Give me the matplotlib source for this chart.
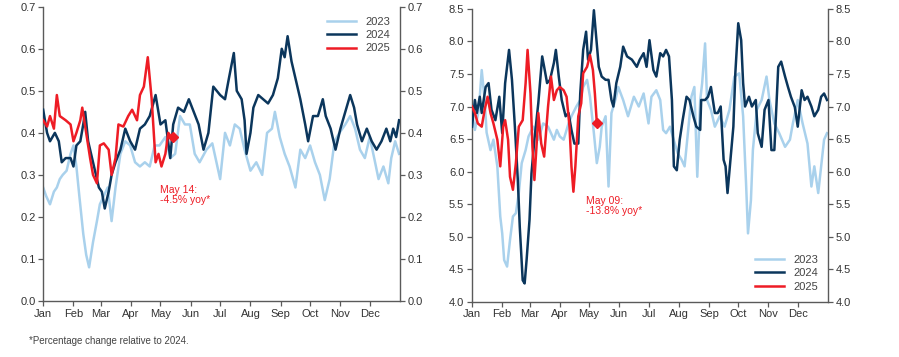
"""
Two panels, daily series by day of year (2023 / 2024 / 2025), twin y labels.
"""
import numpy as np
import matplotlib
matplotlib.use("Agg")
import matplotlib.pyplot as plt

plt.rcParams["font.family"] = ["Liberation Sans", "DejaVu Sans"]

MONTHS = ["Jan", "Feb", "Mar", "Apr", "May", "Jun", "Jul", "Aug", "Sep", "Oct", "Nov", "Dec"]
MONTH_START = [0, 31, 59, 90, 120, 151, 181, 212, 243, 273, 304, 334]

C23 = "#a9d1ec"
C24 = "#0b365c"
C25 = "#ee1c25"
GREY = "#5a5a5a"

# ---- left panel
left_days_2023 = [0, 3, 7, 11, 14, 17, 20, 24, 28, 31, 34, 37, 41, 44, 47, 51, 55, 58, 62, 66,
                  70, 74, 79, 84, 89, 94, 99, 104, 109, 114, 119, 125, 130, 135, 140, 145, 150, 155, 160, 167,
                  173, 181, 186, 191, 196, 201, 206, 212, 218, 224, 229, 234, 237, 242, 247, 252, 258, 263, 268, 273,
                  278, 283, 288, 293, 298, 303, 309, 314, 319, 324, 329, 334, 339, 343, 348, 353, 356, 360, 364]
left_vals_2023 = [0.27, 0.25, 0.23, 0.26, 0.27, 0.29, 0.30, 0.31, 0.35, 0.37, 0.32, 0.25, 0.16, 0.11, 0.08, 0.14, 0.19, 0.23, 0.25, 0.27,
                  0.19, 0.27, 0.35, 0.38, 0.37, 0.33, 0.32, 0.33, 0.32, 0.37, 0.37, 0.39, 0.34, 0.35, 0.44, 0.42, 0.42, 0.35, 0.33, 0.36,
                  0.375, 0.29, 0.40, 0.37, 0.42, 0.41, 0.36, 0.31, 0.33, 0.30, 0.40, 0.41, 0.45, 0.39, 0.35, 0.32, 0.27, 0.36, 0.34, 0.37,
                  0.33, 0.30, 0.24, 0.29, 0.38, 0.40, 0.42, 0.44, 0.41, 0.36, 0.34, 0.39, 0.335, 0.29, 0.32, 0.28, 0.34, 0.38, 0.35]

left_days_2024 = [0, 4, 7, 12, 16, 19, 23, 28, 31, 34, 38, 41, 43, 46, 50, 53, 57, 60, 63, 67,
                  70, 74, 79, 84, 89, 94, 99, 104, 109, 115, 120, 125, 130, 133, 138, 144, 149, 154, 159, 164,
                  169, 174, 181, 186, 190, 195, 198, 203, 206, 208, 212, 215, 220, 225, 230, 235, 240, 244, 247, 250,
                  254, 258, 263, 268, 271, 276, 281, 286, 289, 294, 299, 304, 309, 314, 318, 321, 326, 331, 336, 341,
                  346, 351, 355, 358, 361, 364]
left_vals_2024 = [0.455, 0.40, 0.38, 0.40, 0.38, 0.33, 0.34, 0.34, 0.32, 0.37, 0.38, 0.42, 0.45, 0.38, 0.34, 0.31, 0.27, 0.26, 0.22, 0.26,
                  0.30, 0.33, 0.36, 0.41, 0.38, 0.36, 0.41, 0.42, 0.44, 0.49, 0.42, 0.43, 0.34, 0.42, 0.46, 0.45, 0.48, 0.45, 0.42, 0.36,
                  0.40, 0.51, 0.49, 0.48, 0.53, 0.59, 0.50, 0.48, 0.43, 0.35, 0.40, 0.46, 0.49, 0.48, 0.47, 0.49, 0.53, 0.60, 0.58, 0.63,
                  0.57, 0.53, 0.48, 0.42, 0.38, 0.44, 0.44, 0.48, 0.44, 0.41, 0.36, 0.41, 0.45, 0.49, 0.46, 0.42, 0.38, 0.41, 0.38, 0.36,
                  0.38, 0.41, 0.38, 0.41, 0.39, 0.43]

left_days_2025 = [0, 4, 7, 11, 14, 17, 23, 28, 31, 34, 38, 40, 44, 48, 51, 55, 58, 62, 67, 70,
                  74, 77, 82, 87, 91, 96, 99, 103, 107, 111, 115, 118, 121, 125, 128, 131, 133]
left_vals_2025 = [0.43, 0.415, 0.44, 0.41, 0.49, 0.44, 0.43, 0.42, 0.38, 0.40, 0.43, 0.46, 0.40, 0.34, 0.30, 0.28, 0.37, 0.375, 0.36, 0.30,
                  0.34, 0.42, 0.415, 0.44, 0.455, 0.43, 0.49, 0.51, 0.58, 0.48, 0.33, 0.35, 0.32, 0.35, 0.40, 0.39, 0.39]

# ---- right panel
right_days_2023 = [0, 3, 7, 10, 13, 15, 19, 22, 26, 29, 31, 33, 36, 39, 42, 45, 48, 51, 55, 58,
                   63, 68, 73, 78, 84, 87, 90, 94, 99, 102, 107, 111, 114, 118, 121, 125, 128, 131, 133, 137,
                   140, 143, 147, 150, 155, 160, 166, 171, 176, 181, 184, 189, 193, 196, 199, 203, 208, 211, 215, 218,
                   222, 225, 228, 231, 234, 236, 239, 241, 245, 249, 254, 259, 264, 269, 274, 278, 281, 283, 286, 288,
                   292, 297, 302, 305, 310, 315, 321, 326, 329, 334, 339, 344, 348, 351, 355, 358, 361, 364]
right_vals_2023 = [6.90, 6.64, 6.95, 7.56, 7.10, 6.60, 6.33, 6.49, 6.08, 5.31, 5.05, 4.64, 4.54, 4.95, 5.31, 5.36, 5.67, 6.13, 6.33, 6.54,
                   6.69, 6.49, 6.74, 6.69, 6.49, 6.64, 6.54, 6.49, 6.74, 6.85, 7.00, 7.10, 7.30, 7.41, 7.15, 6.59, 6.13, 6.38, 6.69, 6.85,
                   5.77, 6.90, 7.10, 7.30, 7.10, 6.85, 7.15, 7.00, 7.20, 6.74, 7.15, 7.25, 7.10, 6.64, 6.59, 6.69, 6.43, 6.28, 6.18, 6.08,
                   6.69, 7.15, 7.30, 5.92, 7.10, 7.36, 7.97, 7.10, 6.95, 6.69, 6.85, 6.69, 6.95, 7.46, 7.51, 6.85, 5.82, 5.05, 5.56, 6.33,
                   6.95, 7.10, 7.46, 7.10, 6.74, 6.59, 6.38, 6.49, 6.74, 7.10, 6.74, 6.43, 5.77, 6.08, 5.67, 6.08, 6.49, 6.59]

right_days_2024 = [0, 3, 5, 8, 10, 14, 17, 20, 24, 28, 31, 34, 38, 41, 44, 47, 49, 52, 54, 56,
                   59, 61, 64, 68, 72, 74, 77, 80, 84, 86, 89, 92, 96, 99, 102, 105, 109, 111, 114, 117,
                   119, 122, 125, 127, 130, 133, 137, 140, 143, 145, 148, 152, 155, 159, 164, 169, 172, 176, 179, 182,
                   186, 189, 193, 196, 199, 202, 205, 207, 210, 213, 216, 220, 223, 227, 230, 234, 235, 239, 242, 245,
                   249, 252, 255, 258, 260, 262, 265, 268, 270, 273, 276, 278, 280, 284, 287, 291, 293, 297, 300, 304,
                   307, 310, 314, 317, 321, 324, 327, 331, 334, 338, 341, 344, 348, 351, 355, 358, 361, 364]
right_vals_2024 = [6.69, 7.10, 6.90, 7.15, 6.90, 7.30, 7.36, 6.95, 6.79, 7.15, 6.59, 7.36, 7.87, 7.41, 6.69, 5.87, 5.15, 4.33, 4.28, 4.64,
                   5.26, 5.97, 6.49, 7.05, 7.77, 7.61, 7.36, 7.41, 7.67, 7.87, 7.46, 7.10, 6.85, 6.90, 6.64, 6.43, 6.43, 7.20, 7.87, 8.15,
                   7.72, 7.87, 8.48, 8.13, 7.61, 7.46, 7.41, 7.41, 7.10, 7.00, 7.36, 7.61, 7.92, 7.77, 7.72, 7.61, 7.72, 7.82, 7.61, 8.02,
                   7.56, 7.46, 7.82, 7.77, 7.87, 7.77, 7.10, 6.08, 6.02, 6.49, 6.79, 7.15, 7.10, 6.85, 6.69, 6.64, 7.10, 7.10, 7.15, 7.30,
                   6.90, 6.90, 7.00, 6.18, 6.08, 5.67, 6.18, 6.69, 7.51, 8.28, 8.02, 7.36, 7.00, 7.15, 7.00, 7.10, 6.59, 6.38, 6.95, 7.10,
                   6.33, 6.33, 7.61, 7.69, 7.46, 7.30, 7.15, 6.99, 6.69, 7.25, 7.10, 7.15, 7.00, 6.85, 6.95, 7.15, 7.20, 7.10]

right_days_2025 = [0, 3, 6, 10, 13, 16, 19, 22, 26, 29, 32, 34, 37, 39, 42, 45, 48, 52, 55, 57,
                   60, 62, 64, 67, 68, 71, 74, 78, 81, 84, 87, 90, 94, 97, 100, 102, 104, 106, 109, 112,
                   114, 118, 121, 124, 126, 128]
right_vals_2025 = [7.00, 6.90, 6.74, 6.69, 6.95, 7.15, 6.90, 6.74, 6.49, 6.08, 6.69, 6.79, 6.49, 5.92, 5.72, 6.13, 6.69, 6.79, 7.36, 7.87,
                   7.20, 6.38, 5.87, 6.59, 6.90, 6.43, 6.23, 7.00, 7.46, 7.10, 7.25, 7.30, 7.25, 7.15, 6.69, 6.08, 5.69, 6.08, 6.85, 7.05,
                   7.51, 7.61, 7.79, 7.56, 7.20, 6.75]

left_note = "May 14:\n-4.5% yoy*"
right_note = "May 09:\n-13.8% yoy*"
footnote = "*Percentage change relative to 2024."


def panel(ax, s23, s24, s25, ylim, yticks, fmt, note, note_xy, legend_loc):
    ax.plot(*s23, color=C23, lw=1.8, label="2023", zorder=2)
    ax.plot(*s24, color=C24, lw=1.8, label="2024", zorder=3)
    ax.plot(*s25, color=C25, lw=1.8, label="2025", zorder=4)
    ax.plot(s25[0][-1], s25[1][-1], "D", color=C25, ms=5.5, zorder=5)
    ax.text(*note_xy, note, color=C25, fontsize=7.5, va="top", ha="left", linespacing=1.0)

    ax.set_xlim(0, 365)
    ax.set_ylim(*ylim)
    ax.set_xticks(MONTH_START)
    ax.set_xticklabels(MONTHS)
    ax.set_yticks(yticks)
    ax.set_yticklabels([fmt % t for t in yticks])
    ax.tick_params(axis="both", direction="out", length=3.5, width=0.9, colors=GREY,
                   labelcolor="#333333", labelsize=8, pad=2)
    ax.tick_params(axis="y", right=True, labelright=True)
    ax.spines["top"].set_visible(False)
    for s in ("left", "right", "bottom"):
        ax.spines[s].set_color(GREY)
        ax.spines[s].set_linewidth(1.0)

    leg = ax.legend(loc=legend_loc, frameon=False, fontsize=8, handlelength=2.6,
                    labelspacing=0.3, borderaxespad=0.5)
    for t in leg.get_texts():
        t.set_color("#444444")


fig = plt.figure(figsize=(8.99, 3.57), dpi=100)
axl = fig.add_axes([0.048, 0.157, 0.397, 0.824])
axr = fig.add_axes([0.525, 0.155, 0.396, 0.820])

panel(axl, (left_days_2023, left_vals_2023), (left_days_2024, left_vals_2024),
      (left_days_2025, left_vals_2025), (0.0, 0.7), np.arange(0, 0.71, 0.1), "%.1f",
      left_note, (120, 0.275), "upper right")
panel(axr, (right_days_2023, right_vals_2023), (right_days_2024, right_vals_2024),
      (right_days_2025, right_vals_2025), (4.0, 8.5), np.arange(4.0, 8.51, 0.5), "%.1f",
      right_note, (117, 5.62), "lower right")

fig.text(0.032, 0.045, footnote, fontsize=7, color="#444444", ha="left", va="center")

fig.savefig("out.png", dpi=100)
